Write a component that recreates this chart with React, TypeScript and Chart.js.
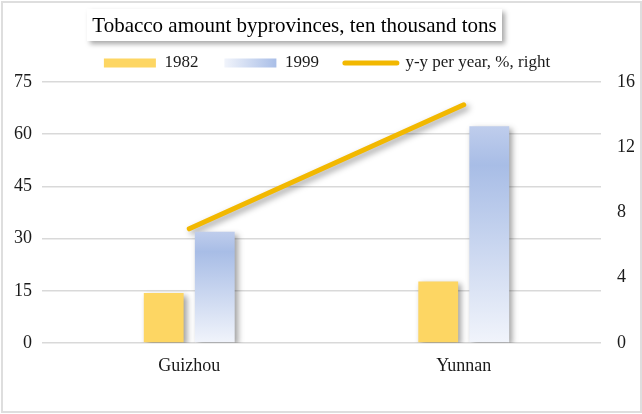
import React, { useEffect, useRef } from "react";
import { Chart, registerables } from "chart.js";

Chart.register(...registerables);

const categories = ["Guizhou", "Yunnan"];
const seriesNames = ["1982", "1999", "y-y per year, %, right"];
const values1982 = [14.4, 17.7];
const values1999 = [32.0, 62.3];
const growthPct = [7.0, 14.6];
const leftTicks = [0, 15, 30, 45, 60, 75];
const rightTicks = [0, 4, 8, 12, 16];
const titleText = "Tobacco amount byprovinces, ten thousand tons";

const FONT = "'Liberation Serif', 'Times New Roman', serif";
const TEXT = "#1a1a1a";
const YELLOW = "#fdd663";
const GOLD = "#f2b800";
const GRID = "#d9d9d9";

const LEGEND_DX = 6;
const LEGEND_CENTER_Y = 63;

export default function App() {
  const ref = useRef<HTMLCanvasElement | null>(null);

  useEffect(() => {
    const canvas = ref.current;
    if (!canvas) return;

    const shadowPlugin = {
      id: "shadowPlugin",
      beforeDatasetDraw(chart: any) {
        const c = chart.ctx;
        c.save();
        c.shadowColor = "rgba(0,0,0,0.38)";
        c.shadowBlur = 6;
        c.shadowOffsetX = 3;
        c.shadowOffsetY = 3;
      },
      afterDatasetDraw(chart: any) {
        chart.ctx.restore();
      },
    };

    const legendPlugin = {
      id: "legendPlugin",
      afterLayout(chart: any) {
        const l = chart.legend;
        if (!l) return;
        l.left += LEGEND_DX;
        l.right += LEGEND_DX;
        const h = l.height;
        const pad = l.options.labels.padding;
        const fs = l.options.labels.font.size;
        l.top = LEGEND_CENTER_Y - pad - fs / 2;
        l.bottom = l.top + h;
      },
      beforeDraw(chart: any) {
        const l = chart.legend;
        if (!l || !l.legendHitBoxes || !l.legendItems) return;
        const hb = l.legendHitBoxes[1];
        const item = l.legendItems[1];
        if (!hb || !item) return;
        const bw = l.options.labels.boxWidth;
        const g = chart.ctx.createLinearGradient(hb.left, 0, hb.left + bw, 0);
        g.addColorStop(0, "#f1f4fb");
        g.addColorStop(1, "#a9bee7");
        item.fillStyle = g;
        item.strokeStyle = g;
      },
    };

    const barGradient = (ctx: any) => {
      const chart = ctx.chart;
      if (!chart.chartArea || ctx.type !== "data" || !ctx.parsed) return "#b4c6e7";
      const y = chart.scales.y;
      const top = y.getPixelForValue(ctx.parsed.y);
      const bottom = y.getPixelForValue(0);
      const g = chart.ctx.createLinearGradient(0, top, 0, bottom);
      g.addColorStop(0, "#bfcdec");
      g.addColorStop(0.18, "#a8bde6");
      g.addColorStop(1, "#f1f4fb");
      return g;
    };

    const tickFont = { family: FONT, size: 18 };

    const chart = new Chart(canvas, {
      type: "bar",
      data: {
        labels: categories,
        datasets: [
          {
            label: seriesNames[0],
            data: values1982,
            backgroundColor: YELLOW,
            borderWidth: 0,
            yAxisID: "y",
            barPercentage: 0.78,
            categoryPercentage: 0.372,
          },
          {
            label: seriesNames[1],
            data: values1999,
            backgroundColor: barGradient,
            borderWidth: 0,
            yAxisID: "y",
            barPercentage: 0.78,
            categoryPercentage: 0.372,
          },
          {
            type: "line",
            label: seriesNames[2],
            data: growthPct,
            borderColor: GOLD,
            backgroundColor: GOLD,
            borderWidth: 5,
            borderCapStyle: "round",
            pointRadius: 0,
            pointHoverRadius: 0,
            tension: 0,
            yAxisID: "y1",
          } as any,
        ],
      },
      options: {
        responsive: false,
        animation: false,
        devicePixelRatio: 1,
        layout: { padding: { top: 29, left: 0, right: 0, bottom: 0 } },
        plugins: {
          title: { display: false },
          tooltip: { enabled: false },
          legend: {
            display: true,
            position: "top",
            align: "center",
            labels: {
              usePointStyle: true,
              pointStyleWidth: 52,
              boxWidth: 52,
              boxHeight: 9,
              padding: 26,
              color: TEXT,
              font: { family: FONT, size: 17 },
              generateLabels: () => [
                {
                  text: seriesNames[0],
                  fillStyle: YELLOW,
                  strokeStyle: YELLOW,
                  lineWidth: 0,
                  pointStyle: "rect",
                  datasetIndex: 0,
                  hidden: false,
                  fontColor: TEXT,
                },
                {
                  text: seriesNames[1],
                  fillStyle: "#c5d3ee",
                  strokeStyle: "#c5d3ee",
                  lineWidth: 0,
                  pointStyle: "rect",
                  datasetIndex: 1,
                  hidden: false,
                  fontColor: TEXT,
                },
                {
                  text: seriesNames[2],
                  fillStyle: GOLD,
                  strokeStyle: GOLD,
                  lineWidth: 5,
                  lineCap: "round",
                  pointStyle: "line",
                  datasetIndex: 2,
                  hidden: false,
                  fontColor: TEXT,
                },
              ],
            },
          },
        },
        scales: {
          x: {
            grid: { display: false, drawTicks: false },
            border: { display: false },
            ticks: { font: { family: FONT, size: 18 }, color: TEXT, padding: 12 },
            afterFit: (s: any) => {
              s.height = 71;
            },
          },
          y: {
            position: "left",
            min: leftTicks[0],
            max: leftTicks[leftTicks.length - 1],
            ticks: {
              stepSize: leftTicks[1] - leftTicks[0],
              font: tickFont,
              color: TEXT,
              padding: 10,
            },
            grid: { color: GRID, lineWidth: 1.5, drawTicks: true, tickLength: 10 },
            border: { display: false },
            afterFit: (s: any) => {
              s.width = 52;
            },
          },
          y1: {
            position: "right",
            min: rightTicks[0],
            max: rightTicks[rightTicks.length - 1],
            ticks: {
              stepSize: rightTicks[1] - rightTicks[0],
              font: tickFont,
              color: TEXT,
              padding: 16,
            },
            grid: { display: false, drawTicks: false },
            border: { display: false },
            afterFit: (s: any) => {
              s.width = 41;
            },
          },
        },
      },
      plugins: [shadowPlugin, legendPlugin],
    } as any);

    return () => chart.destroy();
  }, []);

  return (
    <div
      style={{
        position: "fixed",
        left: 0,
        top: 0,
        width: 642,
        height: 414,
        background: "#ffffff",
        overflow: "hidden",
      }}
    >
      <div
        style={{
          position: "absolute",
          left: 1,
          top: 1,
          width: 637,
          height: 408,
          border: "2px solid #dedede",
        }}
      />
      <canvas
        ref={ref}
        width={642}
        height={414}
        style={{ position: "absolute", left: 0, top: 0, width: 642, height: 414 }}
      />
      <div
        style={{
          position: "absolute",
          left: 87,
          top: 9,
          width: 415,
          height: 32,
          background: "#ffffff",
          boxShadow: "3px 3px 5px rgba(0,0,0,0.35)",
          display: "flex",
          alignItems: "center",
          justifyContent: "center",
          fontFamily: FONT,
          fontSize: 21,
          color: "#000000",
          whiteSpace: "nowrap",
        }}
      >
        {titleText}
      </div>
    </div>
  );
}
